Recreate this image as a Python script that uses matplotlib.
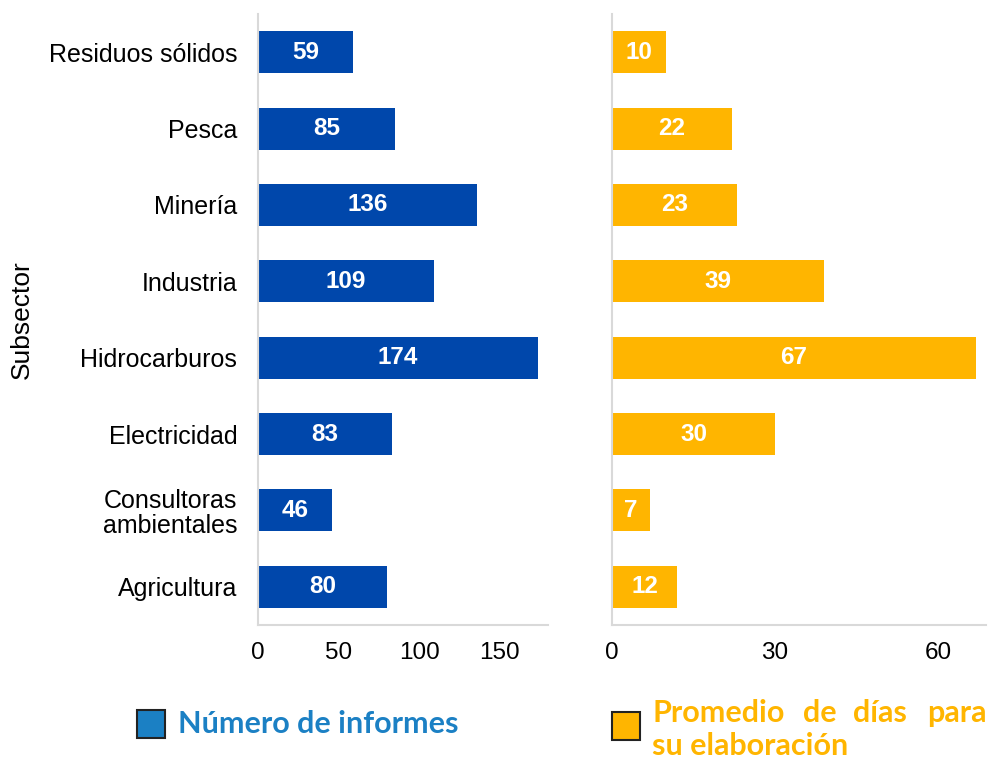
import matplotlib
matplotlib.use("Agg")
import matplotlib.pyplot as plt
from matplotlib.patches import Rectangle

categories = ["Agricultura", "Consultoras\nambientales", "Electricidad", "Hidrocarburos",
              "Industria", "Minería", "Pesca", "Residuos sólidos"]
informes = [80, 46, 83, 174, 109, 136, 85, 59]
dias = [12, 7, 30, 67, 39, 23, 22, 10]
left_ticks = [0, 50, 100, 150]
right_ticks = [0, 30, 60]
legend_left = "Número de informes"
legend_right_line1 = ["Promedio", "de", "días", "para"]
legend_right_line2 = "su elaboración"

BLUE = "#0047AB"
ORANGE = "#FFB500"
LEG_BLUE = "#1B80C4"
SPINE = "#D9D9D9"

plt.rcParams['font.family'] = ['Liberation Sans', 'DejaVu Sans']

fig = plt.figure(figsize=(9.88, 7.6), dpi=100)
ax1 = fig.add_axes([258/988, 1-625/760, 290/988, 611/760])
ax2 = fig.add_axes([612/988, 1-625/760, 374/988, 611/760])

y = list(range(len(categories)))
for ax, vals, col, ticks, xmax in [(ax1, informes, BLUE, left_ticks, 180),
                                   (ax2, dias, ORANGE, right_ticks, 68.8)]:
    bars = ax.barh(y, vals, height=0.55, color=col)
    for b, v in zip(bars, vals):
        ax.text(v/2, b.get_y()+b.get_height()/2, str(v), ha='center', va='center',
                color='white', fontsize=17.5, fontweight='bold')
    ax.set_xlim(0, xmax)
    ax.set_ylim(-0.5, len(categories)-0.5)
    ax.set_xticks(ticks)
    ax.tick_params(axis='x', length=0, labelsize=17.5, pad=12)
    ax.tick_params(axis='y', length=0)
    for s in ['top', 'right']:
        ax.spines[s].set_visible(False)
    for s in ['left', 'bottom']:
        ax.spines[s].set_color(SPINE)
        ax.spines[s].set_linewidth(1.5)

ax1.set_yticks(y)
ax1.set_yticklabels(categories, fontsize=18, linespacing=1.05)
ax1.tick_params(axis='y', pad=15)
ax2.set_yticks([])
ax1.set_ylabel("Subsector", fontsize=19)
ax1.yaxis.set_label_coords(-(258-34)/290, 0.5)

# Legend
fig.patches.append(Rectangle((137/988, 1-738/760), 28/988, 28/760, transform=fig.transFigure,
                             facecolor=LEG_BLUE, edgecolor='#222222', linewidth=1.5))
fig.text(178/988, 1-724/760, legend_left, color=LEG_BLUE, fontsize=22, fontweight='bold',
         family=['Lato', 'DejaVu Sans'], va='center', ha='left')
fig.patches.append(Rectangle((612/988, 1-740/760), 28/988, 28/760, transform=fig.transFigure,
                             facecolor=ORANGE, edgecolor='#222222', linewidth=1.5))
word_pos = [(652, 'left'), (803, 'left'), (853, 'left'), (987, 'right')]
for (wx, al), w in zip(word_pos, legend_right_line1):
    fig.text(wx/988, 1-713/760, w, color=ORANGE, fontsize=22, fontweight='bold',
             family=['Lato', 'DejaVu Sans'], va='center', ha=al)
fig.text(652/988, 1-746/760, legend_right_line2, color=ORANGE, fontsize=22, fontweight='bold',
         family=['Lato', 'DejaVu Sans'], va='center', ha='left')

fig.savefig("out.png", dpi=100)
